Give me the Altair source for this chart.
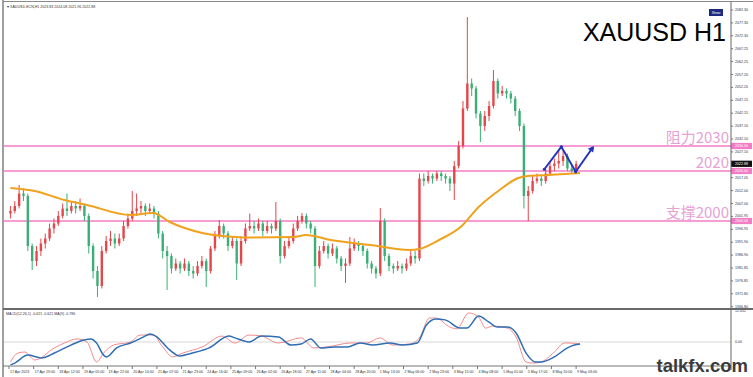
import altair as alt
import pandas as pd

# ---------------- data ----------------
# XAUUSD candles, each one grouping 3 consecutive H1 bars
closes = [
    2004, 2006, 2011, 2010, 1990, 1984, 1988, 1991, 1993, 1997,
    1999, 2002, 2005, 2004, 2006, 2005, 2006, 2002, 1990, 1980,
    1974, 1988, 1992, 1993, 1991, 1993, 1998, 2001, 2004, 2005,
    2006, 2004, 2005, 2003, 1995, 1988, 1986, 1981, 1983, 1981,
    1983, 1980, 1979, 1982, 1984, 1980, 1989, 1994, 1998, 1995,
    1990, 1992, 1983, 1992, 1997, 1998, 1997, 1999, 1996, 1998,
    1997, 2000, 1986, 1990, 1992, 1997, 2000, 2002, 1999, 1997,
    1982, 1988, 1990, 1987, 1989, 1985, 1982, 1983, 1989, 1991,
    1990, 1988, 1983, 1981, 1979, 2000, 1986, 1982, 1981, 1982,
    1981, 1983, 1986, 1985, 2017, 2016, 2018, 2017, 2019, 2018,
    2017, 2015, 2022, 2030, 2045, 2055, 2053, 2043, 2038, 2042,
    2046, 2056, 2051, 2052, 2051, 2049, 2044, 2038, 2010, 2012,
    2016, 2017, 2016, 2019, 2022, 2023, 2024, 2026, 2021, 2020,
    2022.88,
]
highs = [
    2006, 2008, 2014.4, 2013, 2011, 1991, 1990, 1993, 1995, 1999,
    2001, 2004, 2007, 2011, 2008, 2008, 2009, 2007, 2003, 1991,
    1982, 1990, 1994, 1996, 1995, 1995, 2000, 2003, 2012, 2011,
    2008, 2007, 2007, 2006, 2004, 1996, 1990, 1987, 1985, 1984,
    1985, 1984, 1982, 1984, 1986, 1985, 1990, 1996, 2000.4, 1999,
    1996, 1994, 1993, 1994, 1999, 2003, 2000, 2001, 2000, 2000,
    1999, 2007.6, 2001, 1992, 1994, 1999, 2002, 2003.2, 2003, 2000,
    1998, 1990, 1992, 1991, 1991, 1990, 1986, 1985, 1993.6, 1993,
    1992, 1991, 1989, 1984, 1982, 2005.2, 2001, 1987, 1983, 1984,
    1983, 1985, 1988, 1988, 2019, 2019, 2020, 2019, 2020, 2020,
    2019, 2018, 2024, 2032, 2048, 2081.6, 2057, 2054, 2044, 2044,
    2048, 2060.4, 2057, 2054, 2053, 2052, 2050, 2045, 2039, 2014,
    2018, 2019, 2018, 2021, 2024, 2025, 2028.4, 2028, 2027, 2022,
    2024.08,
]
lows = [
    2001, 2003, 2005, 2008, 1988, 1980.4, 1982, 1986, 1989, 1992,
    1995, 1998, 2001, 2002, 2003, 2003, 2004, 2000, 1987, 1977,
    1969.6, 1973, 1987, 1990, 1989, 1990, 1992, 1997, 2000, 2002,
    2003, 2002, 2003, 2001, 1993, 1985, 1972.4, 1979, 1980, 1979,
    1980, 1978, 1977, 1978, 1981, 1973.6, 1979, 1988, 1993, 1993,
    1988, 1989, 1976.4, 1982, 1991, 1996, 1995, 1996, 1994, 1995,
    1995, 1996, 1983, 1985, 1989, 1991, 1996, 1999, 1997, 1995,
    1973.6, 1981, 1987, 1985, 1986, 1983, 1980, 1975.2, 1982, 1988,
    1988, 1986, 1981, 1979, 1977, 1978, 1984, 1980, 1979, 1980,
    1979, 1980, 1982, 1983, 1984, 2014, 2015, 2015, 2016, 2016,
    2015, 2012, 2008.4, 2021, 2029, 2044, 2050, 2041, 2031.6, 2036,
    2040, 2045, 2049, 2050, 2049, 2047, 2042, 2036, 2005, 2000,
    2011, 2015, 2014, 2015, 2018, 2020, 2021, 2022, 2020, 2019,
    2019.5,
]
first_open = 2003.0

# orange moving average (candle index, price)
ma_idx = [0, 5.6, 12.4, 17.6, 27.6, 32.8, 36.6, 44.1, 51.6, 55.4, 65.2, 67.9,
          73.6, 82.7, 91.7, 94.0, 98.5, 103.7, 107.6, 112.1, 116.7, 118.9, 123.5, 130.9]
ma_val = [2013.2, 2012.0, 2008.4, 2006.4, 2002.4, 2003.2, 1999.6, 1995.2, 1993.6, 1993.4,
          1993.6, 1994.4, 1992.4, 1990.4, 1988.4, 1988.8, 1992.4, 1998.0, 2005.6, 2012.0,
          2017.2, 2018.0, 2018.4, 2019.2]

# MACD main line (red) and signal MA(9) (blue)
macd_idx = [0, 1.7, 3.3, 5.6, 10.1, 12.4, 15.3, 17.6, 19.8, 21.4, 23.7, 27.6, 29.8, 32.8,
            35.0, 37.3, 39.6, 44.1, 48.6, 51.6, 54.8, 57.7, 61.6, 66.8, 69.7, 72.9, 78.1,
            81.9, 84.9, 87.9, 91.7, 94.0, 96.3, 97.8, 101.0, 102.6, 105.3, 107.6, 109.2,
            110.8, 114.2, 116.2, 118.5, 120.1, 121.9, 125.0, 127.3, 128.6, 130.9]
macd_val = [-7.8, -4.3, -3.9, -7.0, -2.3, -0.4, 1.2, 0.0, -7.8, -4.3, -1.2, 0.0, 2.7, 2.7,
            -1.9, -5.8, -4.3, -1.9, 2.3, -0.4, 2.7, 2.3, -0.4, 1.6, -2.3, -1.9, -0.4,
            -0.4, 1.6, -1.2, -0.8, 1.6, 9.3, 9.3, 5.8, 5.1, 11.3, 9.7, 5.4,
            6.2, 5.4, 1.9, -7.8, -8.2, -7.8, -3.9, -0.4, -0.4, -0.8]
signal_idx = [0, 1.0, 4.0, 7.1, 10.1, 13.9, 16.9, 18.5, 19.8, 21.4, 22.1, 24.4, 27.6, 30.5,
              32.1, 33.4, 36.6, 38.9, 41.8, 45.7, 50.2, 51.6, 54.8, 57.7, 61.6, 64.5, 66.8,
              69.0, 71.3, 74.3, 77.4, 80.4, 83.3, 87.2, 90.1, 93.5, 95.6, 97.8, 99.9, 103.3,
              104.9, 107.6, 109.9, 111.9, 114.2, 116.2, 118.5, 120.7, 121.9, 125.0, 128.0,
              129.6, 130.9]
signal_val = [-8.9, -8.2, -5.1, -6.2, -4.3, -1.2, 0.8, 1.2, -0.4, -5.1, -5.8, -2.3, -0.4, 1.9,
              3.1, 2.3, -3.1, -5.4, -4.3, -2.3, 2.3, 1.6, 0.0, 2.3, 1.9, -1.2, -0.8,
              1.2, -2.3, -1.9, -1.9, -0.4, -1.2, -0.4, -1.2, -0.4, 6.6, 8.9, 8.6, 5.4,
              5.4, 10.1, 7.8, 5.8, 5.8, 3.5, -4.3, -7.8, -7.8, -5.8, -2.3,
              -1.2, -0.8]

# horizontal levels
level_values = [2030, 2020, 2000]
level_texts = ["阻力2030", "2020", "支撑2000"]
level_box_texts = ["2030.00", "2020.00", "2000.00"]
last_price = 2022.88

# projected zig-zag path (blue)
path_idx = [122.7, 126.6, 129.9, 133.7]
path_val = [2020.7, 2029.7, 2019.7, 2029.1]

# time axis: H1 bar offset of each label
time_bars = [0, 17, 34, 51, 68, 85, 102, 119, 136, 153, 170, 187,
             204, 221, 238, 255, 272, 289, 306, 323, 340, 357, 374, 391]
time_labels = ["17 Apr 2023", "17 Apr 19:00", "18 Apr 12:00", "19 Apr 05:00",
               "19 Apr 22:00", "20 Apr 14:00", "21 Apr 07:00", "21 Apr 23:00",
               "24 Apr 16:00", "25 Apr 09:00", "26 Apr 02:00", "26 Apr 18:00",
               "27 Apr 11:00", "28 Apr 04:00", "28 Apr 20:00", "1 May 13:00",
               "2 May 06:00", "2 May 23:00", "3 May 15:00", "4 May 08:00",
               "5 May 01:00", "5 May 17:00", "8 May 10:00", "9 May 03:00"]

# price axis: level where each label sits, and its text
price_tick_levels = [2084.40, 2079.24, 2074.08, 2068.92, 2063.76, 2058.60, 2053.44, 2048.28,
                     2043.12, 2037.96, 2032.80, 2027.64, 2022.48, 2017.32, 2012.16, 2007.00,
                     2001.84, 1996.68, 1991.52, 1986.36, 1981.20, 1976.04, 1970.88, 1965.72]
price_tick_texts = ["2082.30", "2077.30", "2072.30", "2067.25", "2062.25", "2057.20",
                    "2052.20", "2047.15", "2042.15", "2037.10", "2032.10", "2027.10",
                    "2022.05", "2017.05", "2012.00", "2007.00", "2001.95", "1996.95",
                    "1991.90", "1986.90", "1981.85", "1976.85", "1971.80", "1966.80"]
macd_tick_levels = [12.052, 0.0]
macd_tick_texts = ["12.052", "0.00"]

# ---------------- chart ----------------
W, H = 753, 377
xs = alt.Scale(domain=[-1.247, 169.5], nice=False, zero=False)
ps = alt.Scale(domain=[1937.6, 2088.4], nice=False, zero=False)
ms = alt.Scale(domain=[-13.61, 132.97], nice=False, zero=False)
FONT = "Liberation Sans"
UP, DOWN = "#e4464a", "#3aae74"
PINK = "#f27cc6"
SMALL = 3.6

opens = [first_open] + closes[:-1]
candles = pd.DataFrame({"i": list(range(len(closes))), "open": opens,
                        "high": highs, "low": lows, "close": closes})
col = alt.condition("datum.close >= datum.open", alt.value(UP), alt.value(DOWN))
X = alt.X("i:Q", scale=xs, axis=None)

levels = pd.DataFrame({"v": level_values, "t": level_texts, "b": level_box_texts})
lvl_lines = alt.Chart(levels).mark_rule(color=PINK, strokeWidth=1.6).encode(
    y=alt.Y("v:Q", scale=ps, axis=None), x=alt.value(4), x2=alt.value(731))
wicks = alt.Chart(candles).mark_rule(strokeWidth=1).encode(
    x=X, y=alt.Y("low:Q", scale=ps, axis=None), y2="high:Q", color=col)
bodies = alt.Chart(candles).mark_bar(width=2.4).encode(
    x=X, y=alt.Y("open:Q", scale=ps, axis=None), y2="close:Q", color=col)
ma = alt.Chart(pd.DataFrame({"i": ma_idx, "v": ma_val})).mark_line(
    color="#f0a21e", strokeWidth=2, interpolate="monotone").encode(
    x=X, y=alt.Y("v:Q", scale=ps, axis=None))
path_df = pd.DataFrame({"i": path_idx, "v": path_val})
path = alt.Chart(path_df).mark_line(color="#2233c0", strokeWidth=2).encode(
    x=X, y=alt.Y("v:Q", scale=ps, axis=None))
path_pts = alt.Chart(path_df).mark_point(filled=True, size=10, color="#2233c0", opacity=1).encode(
    x=X, y=alt.Y("v:Q", scale=ps, axis=None))
arrow = alt.Chart(pd.DataFrame({"i": [path_idx[-1]], "v": [path_val[-1]]})).mark_point(
    shape="triangle-up", angle=36, size=45, filled=True, color="#2233c0", opacity=1).encode(
    x=X, y=alt.Y("v:Q", scale=ps, axis=None))
lvl_texts = alt.Chart(levels).mark_text(
    align="right", baseline="alphabetic", fontSize=15, font="Noto Sans CJK SC",
    color="#e6a2d5", dy=-3).encode(
    y=alt.Y("v:Q", scale=ps, axis=None), x=alt.value(729), text="t:N")

ptick = pd.DataFrame({"v": price_tick_levels, "t": price_tick_texts})
p_labels = alt.Chart(ptick).mark_text(align="left", baseline="middle", fontSize=SMALL,
                                      font=FONT, color="#333").encode(
    y=alt.Y("v:Q", scale=ps, axis=None), x=alt.value(735), text="t:N")
p_ticks = alt.Chart(ptick).mark_rule(color="#555", strokeWidth=0.8).encode(
    y=alt.Y("v:Q", scale=ps, axis=None), x=alt.value(731), x2=alt.value(733))
lvl_boxes = alt.Chart(levels).transform_calculate(
    lo="datum.v - 1.25", hi="datum.v + 1.25").mark_rect(color=PINK).encode(
    y=alt.Y("lo:Q", scale=ps, axis=None), y2="hi:Q", x=alt.value(731), x2=alt.value(752))
lvl_box_txt = alt.Chart(levels).mark_text(align="left", baseline="middle", fontSize=SMALL,
                                          font=FONT, color="white").encode(
    y=alt.Y("v:Q", scale=ps, axis=None), x=alt.value(735), text="b:N")
last_df = pd.DataFrame({"v": [last_price], "t": [f"{last_price:.2f}"]})
last_box = alt.Chart(last_df).transform_calculate(
    lo="datum.v - 1.25", hi="datum.v + 1.25").mark_rect(color="#111").encode(
    y=alt.Y("lo:Q", scale=ps, axis=None), y2="hi:Q", x=alt.value(731), x2=alt.value(752))
last_txt = alt.Chart(last_df).mark_text(align="left", baseline="middle", fontSize=SMALL,
                                        font=FONT, color="white").encode(
    y=alt.Y("v:Q", scale=ps, axis=None), x=alt.value(735), text="t:N")

price_layer = alt.layer(lvl_lines, wicks, bodies, ma, path, path_pts, arrow, lvl_texts,
                        p_ticks, p_labels, lvl_boxes, lvl_box_txt, last_box, last_txt)

zero = alt.Chart(pd.DataFrame({"v": [0.0]})).mark_rule(color="#d9d9d9", strokeWidth=1).encode(
    y=alt.Y("v:Q", scale=ms, axis=None), x=alt.value(4), x2=alt.value(731))
macd_line = alt.Chart(pd.DataFrame({"i": macd_idx, "v": macd_val})).mark_line(
    color="#f28a8a", strokeWidth=1, interpolate="monotone").encode(
    x=X, y=alt.Y("v:Q", scale=ms, axis=None))
sig_line = alt.Chart(pd.DataFrame({"i": signal_idx, "v": signal_val})).mark_line(
    color="#2f6db5", strokeWidth=1.5, interpolate="monotone").encode(
    x=X, y=alt.Y("v:Q", scale=ms, axis=None))
mtick = pd.DataFrame({"v": macd_tick_levels, "t": macd_tick_texts})
m_labels = alt.Chart(mtick).mark_text(align="left", baseline="middle", fontSize=SMALL,
                                      font=FONT, color="#333").encode(
    y=alt.Y("v:Q", scale=ms, axis=None), x=alt.value(735), text="t:N")
macd_layer = alt.layer(zero, macd_line, sig_line, m_labels)

tdf = pd.DataFrame({"bar": time_bars, "label": time_labels})
t_labels = alt.Chart(tdf).transform_calculate(i="(datum.bar - 1) / 3").mark_text(
    align="left", baseline="alphabetic", fontSize=SMALL, font=FONT, color="#333", dx=1).encode(
    x=X, y=alt.value(372.5), text="label:N")
t_ticks = alt.Chart(tdf).transform_calculate(i="(datum.bar - 1) / 3").mark_rule(
    color="#555", strokeWidth=0.8).encode(x=X, y=alt.value(366), y2=alt.value(369))

dummy = pd.DataFrame({"d": [0]})


def rule(x, x2, y, y2, color, w):
    return alt.Chart(dummy).mark_rule(color=color, strokeWidth=w).encode(
        x=alt.value(x), x2=alt.value(x2), y=alt.value(y), y2=alt.value(y2))


def label(txt, x, y, size, color="#333", align="left", baseline="middle", weight="normal"):
    return alt.Chart(dummy).mark_text(
        text=txt, fontSize=size, font=FONT, color=color, align=align,
        baseline=baseline, fontWeight=weight).encode(x=alt.value(x), y=alt.value(y))


decor = [
    rule(3, 3, 0, H, "#a0a0a0", 2),
    rule(3, W, 1.5, 1.5, "#8a8a8a", 1),
    rule(731, 731, 2, 370, "#666", 1),
    rule(3, W, 309, 309, "#6a6a6a", 2),
    rule(3, 731, 366, 366, "#777", 1),
    label("XAUUSD H1", 726, 41, 25, "#000", "right", "alphabetic"),
    alt.Chart(dummy).mark_rect(color="#1b2a80").encode(
        x=alt.value(709), x2=alt.value(723), y=alt.value(9), y2=alt.value(16)),
    label("Show", 716, 12.6, 3.5, "white", "center"),
    label("\u25be XAUUSD-ECN,H1  2023.83 2024.08 2021.96 2022.88", 7, 6.5, SMALL),
    label("MACD(12,26,1) -0.621 -0.621   MA(9) -0.786", 6, 314, SMALL),
    label("talkfx.com", 748, 372, 18.5, "#3b3b3b", "right", "alphabetic", "bold"),
]

chart = alt.layer(price_layer, macd_layer, t_ticks, t_labels, *decor).resolve_scale(
    y="independent").properties(
    width=W, height=H, padding=0, autosize=alt.AutoSizeParams(type="none")
).configure_view(stroke=None)

chart.save("out.html", embed_options={"renderer": "svg", "actions": False})
